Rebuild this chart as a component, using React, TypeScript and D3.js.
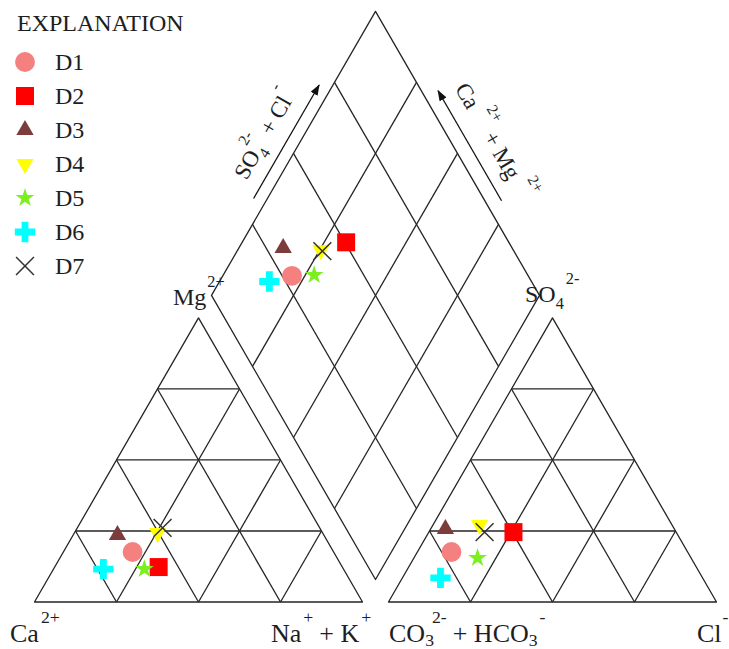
import React, { useRef, useEffect } from 'react';
import * as d3 from 'd3';

// sample ids and percentages (meq %)
const samples = ["D1", "D2", "D3", "D4", "D5", "D6", "D7"];
const mgPct = [17.6, 12.3, 23.6, 24.3, 11.6, 11.6, 26.1];
const naKPct = [21.1, 31.7, 13.5, 25.4, 27.7, 15.2, 26.0];
const caPct = [61.3, 56.0, 62.9, 50.3, 60.7, 73.2, 47.9];
const so4Pct = [17.6, 24.6, 25.7, 27.1, 15.5, 8.5, 24.6];
const clPct = [10.4, 25.8, 4.5, 14.2, 19.4, 11.6, 17.0];
const hco3Pct = [72.0, 49.6, 69.8, 58.7, 65.1, 79.9, 58.4];
const gridTicks = [25, 50, 75];

const markStyles = [
  { type: "circle", color: "#f58080", size: 310 },
  { type: "square", color: "#ff0000", size: 324 },
  { type: "triangle", color: "#7d3c3c", size: 130 },
  { type: "triangleDown", color: "#ffff00", size: 130 },
  { type: "star", color: "#7cf01e", size: 110 },
  { type: "cross", color: "#00ffff", size: 230 },
  { type: "times", color: "#333333", size: 210 },
];

const FONT = "'Liberation Serif', 'Times New Roman', serif";
const INK = "#1e1e1e";

function Piper() {
  const svgRef = useRef(null);

  useEffect(() => {
    const svg = d3.select(svgRef.current);
    svg.selectAll("*").remove();

    const x0 = 34.5, y0 = 602, side = 328, gap = 26;
    const k3 = Math.sqrt(3) / 2;
    const x1 = x0 + side + gap;
    const s = d3.scaleLinear().domain([0, 100]).range([0, side]);

    const cat = (na, mg) => [x0 + s(na + mg / 2), y0 - s(mg) * k3];
    const ani = (cl, so) => [x1 + s(cl + so / 2), y0 - s(so) * k3];
    const dia = (n, k) => {
      const t = 2 * side + gap - s(n) - s(k);
      return [x0 + s(n) + t / 2, y0 - t * k3];
    };

    const line = d3.line();
    const grid = svg.append("g")
      .attr("fill", "none")
      .attr("stroke", "#252525")
      .attr("stroke-width", 1.3)
      .attr("stroke-linejoin", "round");

    const seg = (a, b) => grid.append("path").attr("d", line([a, b]));

    // triangles
    grid.append("path").attr("d", line([cat(0, 0), cat(100, 0), cat(0, 100)]) + "Z");
    grid.append("path").attr("d", line([ani(0, 0), ani(100, 0), ani(0, 100)]) + "Z");
    gridTicks.forEach(f => {
      seg(cat(0, f), cat(100 - f, f));
      seg(cat(f, 0), cat(f, 100 - f));
      seg(cat(100 - f, 0), cat(0, 100 - f));
      seg(ani(0, f), ani(100 - f, f));
      seg(ani(f, 0), ani(f, 100 - f));
      seg(ani(100 - f, 0), ani(0, 100 - f));
    });

    // diamond
    grid.append("path").attr("d", line([dia(0, 0), dia(100, 0), dia(100, 100), dia(0, 100)]) + "Z");
    gridTicks.forEach(f => {
      seg(dia(f, 0), dia(f, 100));
      seg(dia(0, f), dia(100, f));
    });

    // arrows beside the diamond
    svg.append("defs").append("marker")
      .attr("id", "arrowHead")
      .attr("markerUnits", "userSpaceOnUse")
      .attr("markerWidth", 12).attr("markerHeight", 8)
      .attr("refX", 10).attr("refY", 4)
      .attr("orient", "auto")
      .append("path").attr("d", "M0,0L11,4L0,8Z").attr("fill", "#111");

    const leftCorner = dia(0, 100);
    const top = dia(0, 0);
    const u = [0.5, -k3], nL = [-k3, -0.5];
    const v = [0.5, k3], nR = [k3, -0.5];
    const along = (p, d, a, n, b) => [p[0] + d[0] * a + n[0] * b, p[1] + d[1] * a + n[1] * b];

    svg.append("path")
      .attr("d", line([along(leftCorner, u, 105, nL, 12), along(leftCorner, u, 236, nL, 12)]))
      .attr("stroke", "#111").attr("stroke-width", 1.3).attr("marker-end", "url(#arrowHead)");
    svg.append("path")
      .attr("d", line([along(top, v, 227, nR, 14.5), along(top, v, 100, nR, 14.5)]))
      .attr("stroke", "#111").attr("stroke-width", 1.3).attr("marker-end", "url(#arrowHead)");

    // rich text helper: parts [text, kind, dx]
    const rich = (parent, parts, size, subShift = 0.3) => {
      const t = parent.append("text")
        .attr("font-family", FONT)
        .attr("font-size", size)
        .attr("fill", INK);
      let cur = 0;
      parts.forEach(([str, kind, dx]) => {
        const target = kind === "sup" ? -size * 0.75 : kind === "sub" ? size * subShift : 0;
        t.append("tspan")
          .attr("dy", target - cur)
          .attr("dx", dx || 0)
          .attr("font-size", kind === "n" ? size : size * 0.68)
          .text(str);
        cur = target;
      });
      return t;
    };

    const pL = along(leftCorner, u, 166, nL, 27);
    rich(svg, [["SO", "n"], ["4", "sub"], ["2-", "sup", -7], ["+ Cl", "n", 8], ["-", "sup", 2]], 23)
      .attr("text-anchor", "middle")
      .attr("transform", `translate(${pL[0]},${pL[1]}) rotate(-60)`);

    const pR = along(top, v, 172, nR, 30);
    rich(svg, [["Ca", "n"], ["2+", "sup", 8], ["+ Mg", "n", 6], ["2+", "sup", 8]], 23)
      .attr("text-anchor", "middle")
      .attr("transform", `translate(${pR[0]},${pR[1]}) rotate(60)`);

    // corner labels
    rich(svg, [["Mg", "n"], ["2+", "sup", 1]], 24).attr("x", 173).attr("y", 305);
    rich(svg, [["SO", "n"], ["4", "sub"], ["2-", "sup", 2]], 24).attr("x", 525).attr("y", 302);
    rich(svg, [["Ca", "n"], ["2+", "sup", 2]], 26).attr("x", 10).attr("y", 642);
    rich(svg, [["Na", "n"], ["+", "sup", 2], ["+ K", "n", 6], ["+", "sup", 2]], 26).attr("x", 271).attr("y", 642);
    rich(svg, [["CO", "n"], ["3", "sub"], ["2-", "sup", -2], ["+ HCO", "n", 6], ["3", "sub"], ["-", "sup", 2]], 26, 0.17)
      .attr("x", 389).attr("y", 642);
    rich(svg, [["Cl", "n"], ["-", "sup", 1]], 26).attr("x", 697).attr("y", 642);

    // markers
    const symbolOf = {
      circle: d3.symbolCircle,
      square: d3.symbolSquare,
      triangle: d3.symbolTriangle,
      triangleDown: d3.symbolTriangle,
      star: d3.symbolStar,
      cross: d3.symbolCross,
      times: d3.symbolTimes || d3.symbolX,
    };
    const drawMark = (parent, i, p) => {
      const st = markStyles[i];
      const path = parent.append("path")
        .attr("d", d3.symbol(symbolOf[st.type], st.size)())
        .attr("transform", `translate(${p[0]},${p[1]})` + (st.type === "triangleDown" ? " rotate(180)" : ""));
      if (st.type === "times") {
        path.attr("fill", "none").attr("stroke", st.color).attr("stroke-width", 1.5);
      } else {
        path.attr("fill", st.color);
      }
    };

    const marks = svg.append("g");
    samples.forEach((d, i) => {
      drawMark(marks, i, cat(naKPct[i], mgPct[i]));
      drawMark(marks, i, ani(clPct[i], so4Pct[i]));
      drawMark(marks, i, dia(naKPct[i], hco3Pct[i]));
    });

    // legend
    svg.append("text")
      .attr("x", 17).attr("y", 31)
      .attr("font-family", FONT).attr("font-size", 24).attr("fill", INK)
      .text("EXPLANATION");
    const legend = svg.append("g");
    samples.forEach((d, i) => {
      const cy = 62 + 34 * i;
      drawMark(legend, i, [25, cy]);
      legend.append("text")
        .attr("x", 55).attr("y", cy + 8)
        .attr("font-family", FONT).attr("font-size", 24).attr("fill", INK)
        .text(d);
    });
  }, []);

  return (
    <svg ref={svgRef} width={729} height={649}
      style={{ position: "absolute", left: 0, top: 0, background: "#fff" }} />
  );
}

export default function App() {
  return <Piper />;
}
